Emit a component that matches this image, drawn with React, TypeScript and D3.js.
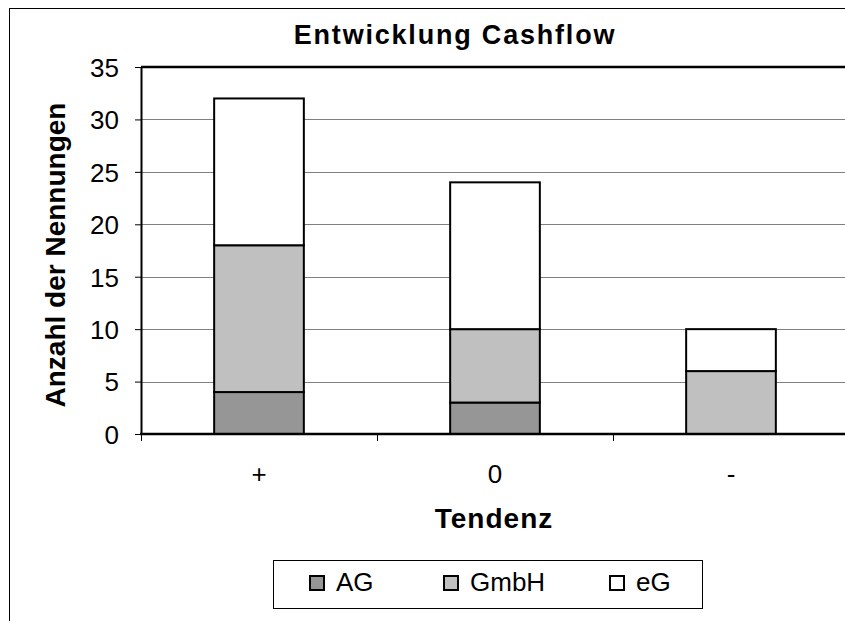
import { useEffect, useRef } from 'react';
import * as d3 from 'd3';

const categories = ['+', '0', '-'];
const seriesNames = ['AG', 'GmbH', 'eG'];
const agValues = [4, 3, 0];
const gmbhValues = [14, 7, 6];
const egValues = [14, 14, 4];
const seriesColors = ['#969696', '#c0c0c0', '#ffffff'];
const yTicks = [0, 5, 10, 15, 20, 25, 30, 35];

const width = 845;
const height = 621;
const font = 'Arial, "Liberation Sans", sans-serif';

export default function App() {
  const svgRef = useRef<SVGSVGElement>(null);

  useEffect(() => {
    if (!svgRef.current) return;
    const svg = d3.select(svgRef.current);
    svg.selectAll('*').remove();

    const left = 141;
    const right = 849;
    const top = 67;
    const bottom = 434;

    const rows = categories.map((c, i) => ({
      category: c,
      AG: agValues[i],
      GmbH: gmbhValues[i],
      eG: egValues[i],
    }));

    const x = d3.scaleBand()
      .domain(categories)
      .range([left, right])
      .paddingInner(0.62)
      .paddingOuter(0.31);
    const y = d3.scaleLinear().domain([0, 35]).range([bottom, top]);

    // outer frame
    svg.append('rect')
      .attr('x', 9.5).attr('y', 8.5)
      .attr('width', 860).attr('height', 640)
      .attr('fill', 'white').attr('stroke', '#000').attr('stroke-width', 1);

    // gridlines
    svg.append('g')
      .selectAll('line')
      .data(yTicks.filter(t => t > 0 && t < 35))
      .enter().append('line')
      .attr('x1', left).attr('x2', right)
      .attr('y1', d => Math.round(y(d)) + 0.5).attr('y2', d => Math.round(y(d)) + 0.5)
      .attr('stroke', '#808080').attr('stroke-width', 1);

    // plot border top
    svg.append('line')
      .attr('x1', left).attr('x2', right)
      .attr('y1', top).attr('y2', top)
      .attr('stroke', '#000').attr('stroke-width', 2.5);

    // bars
    const stack = d3.stack<any>().keys(seriesNames)(rows);
    svg.append('g')
      .selectAll('g')
      .data(stack)
      .enter().append('g')
      .attr('fill', (_d, i) => seriesColors[i])
      .selectAll('rect')
      .data(d => d.filter(s => s[1] - s[0] > 0))
      .enter().append('rect')
      .attr('x', d => x(d.data.category) || 0)
      .attr('width', x.bandwidth())
      .attr('y', d => y(d[1]))
      .attr('height', d => y(d[0]) - y(d[1]))
      .attr('stroke', '#000')
      .attr('stroke-width', 2);

    // y axis
    const yAxis = svg.append('g')
      .attr('transform', `translate(${left},0)`)
      .call(d3.axisLeft(y).tickValues(yTicks).tickSize(6).tickPadding(16).tickSizeOuter(0));
    yAxis.select('.domain').attr('stroke', '#000').attr('stroke-width', 2);
    yAxis.selectAll('.tick line').attr('stroke', '#000');
    yAxis.selectAll('.tick text')
      .attr('font-family', font).attr('font-size', 26).attr('fill', '#000')
      .attr('dy', '0.36em');

    // x axis
    svg.append('line')
      .attr('x1', left - 1).attr('x2', right)
      .attr('y1', bottom).attr('y2', bottom)
      .attr('stroke', '#000').attr('stroke-width', 2.5);
    const boundaries = categories.map(c => (x(c) || 0) - x.step() * 0.31);
    svg.append('g')
      .selectAll('line')
      .data(boundaries)
      .enter().append('line')
      .attr('x1', d => Math.round(d) + 0.5).attr('x2', d => Math.round(d) + 0.5)
      .attr('y1', bottom).attr('y2', bottom + 7)
      .attr('stroke', '#000');
    svg.append('g')
      .selectAll('text')
      .data(categories)
      .enter().append('text')
      .attr('x', d => (x(d) || 0) + x.bandwidth() / 2)
      .attr('y', 483)
      .attr('text-anchor', 'middle')
      .attr('font-family', font).attr('font-size', 26)
      .text(d => d);

    // titles
    svg.append('text')
      .attr('x', 455).attr('y', 44)
      .attr('text-anchor', 'middle')
      .attr('font-family', font).attr('font-size', 27).attr('font-weight', 'bold')
      .attr('letter-spacing', 1.8)
      .text('Entwicklung Cashflow');
    svg.append('text')
      .attr('x', 494).attr('y', 528)
      .attr('text-anchor', 'middle')
      .attr('font-family', font).attr('font-size', 28).attr('font-weight', 'bold')
      .attr('letter-spacing', 1)
      .text('Tendenz');
    svg.append('text')
      .attr('transform', 'translate(65,255) rotate(-90)')
      .attr('text-anchor', 'middle')
      .attr('font-family', font).attr('font-size', 28).attr('font-weight', 'bold')
      .text('Anzahl der Nennungen');

    // legend
    const legend = svg.append('g');
    legend.append('rect')
      .attr('x', 273.5).attr('y', 560.5)
      .attr('width', 429).attr('height', 48)
      .attr('fill', 'white').attr('stroke', '#000');
    const legendX = [309, 443, 609];
    const item = legend.selectAll('g.item')
      .data(seriesNames)
      .enter().append('g')
      .attr('class', 'item')
      .attr('transform', (_d, i) => `translate(${legendX[i]},575)`);
    item.append('rect')
      .attr('x', 1).attr('y', 1)
      .attr('width', 14).attr('height', 14)
      .attr('fill', (_d, i) => seriesColors[i])
      .attr('stroke', '#000').attr('stroke-width', 2);
    item.append('text')
      .attr('x', 27).attr('y', 16)
      .attr('font-family', font).attr('font-size', 26)
      .text(d => d);
  }, []);

  return (
    <svg
      ref={svgRef}
      width={width}
      height={height}
      style={{ position: 'absolute', left: 0, top: 0, display: 'block' }}
    />
  );
}
